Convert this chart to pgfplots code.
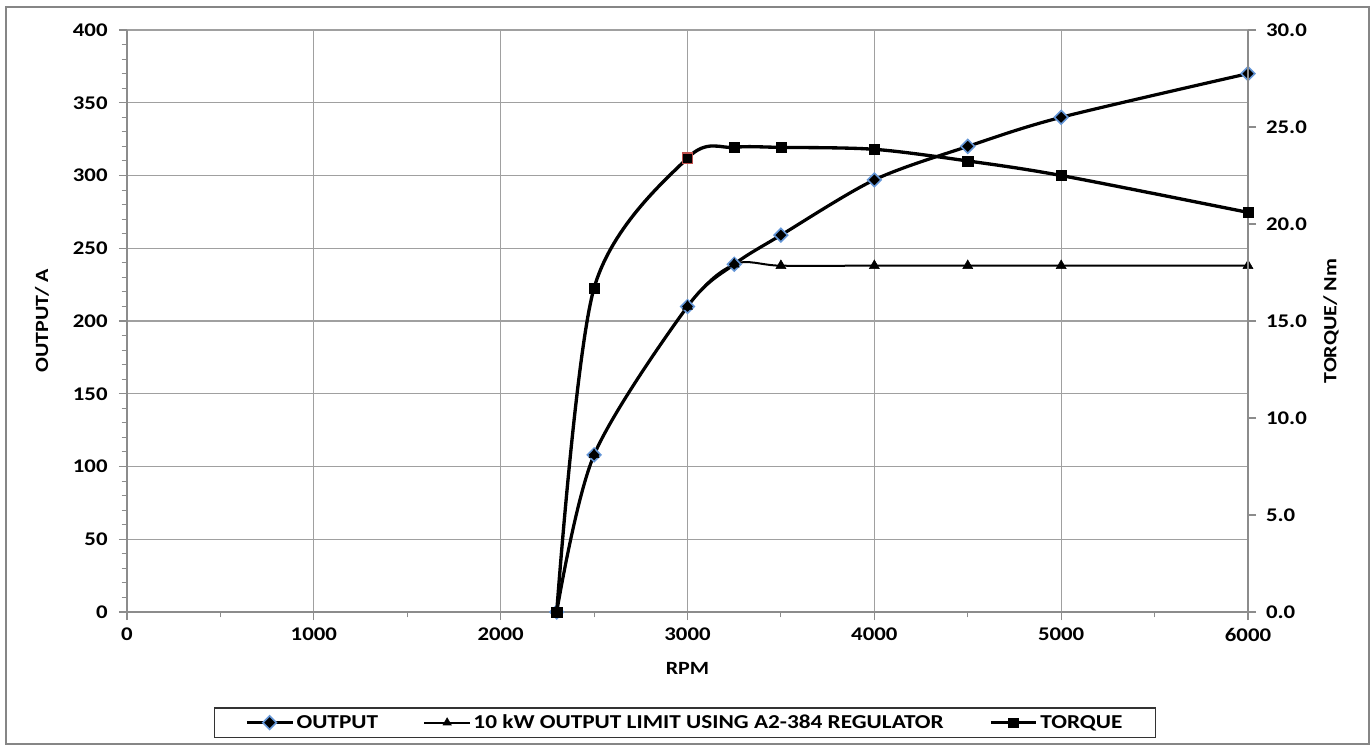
\documentclass[border=0pt]{standalone}
\usepackage{fontspec}
\setmainfont{Carlito}[FakeStretch=1.18]
\usepackage{pgfplots}
\usepackage{pgfplotstable}
\pgfplotsset{compat=1.18}

\definecolor{gridc}{RGB}{160,160,160}
\definecolor{axc}{RGB}{140,140,140}
\definecolor{framec}{RGB}{134,134,134}
\definecolor{diam}{RGB}{100,150,215}
\definecolor{redsq}{RGB}{192,80,77}

% rpm, output current, 10 kW limit, torque
\pgfplotstableread{
rpm  out  lim  tq
2300 0    0    0
2500 108  108  16.7
3000 210  210  23.4
3250 239  239  23.95
3500 259  238  23.95
4000 297  238  23.85
4500 320  238  23.25
5000 340  238  22.5
6000 370  238  20.6
}\data

\pgfplotsset{
  base/.style={
    at={(0,0)}, anchor=south west, scale only axis,
    width=840.75pt, height=436.5pt, xmin=0, xmax=6000,
    tick label style={font=\bfseries\fontsize{14.5}{16}\selectfont},
    /pgf/number format/assume math mode=true,
    /pgf/number format/1000 sep={},
    tick align=outside,
    major tick length=6pt, minor tick length=4pt,
    tick style={axc, line width=0.8pt},
    axis line style={axc, line width=1pt},
    label style={font=\bfseries\fontsize{14}{16}\selectfont},
  },
  outsty/.style={black, line width=2.4pt, smooth, mark=square*, mark size=3.6pt,
    mark options={rotate=45, fill=black, draw=diam, line width=1.2pt}},
  limsty/.style={black, line width=1.5pt, smooth, mark=triangle*, mark size=4.3pt,
    mark options={fill=black, draw=black, line width=0.4pt}},
  tqsty/.style={black, line width=2.5pt, smooth, mark=square*, mark size=3.8pt,
    mark options={fill=black, draw=black, line width=0.4pt}},
}

\begin{document}
\begin{tikzpicture}[x=1pt,y=1pt]
\path[use as bounding box] (-95.25,-101.25) rectangle (933.75,459);
\draw[framec, line width=1.5pt] (-90.75,-99) rectangle (931.5,453.4);

\begin{axis}[base,
  ymin=0, ymax=400,
  axis x line*=bottom, axis y line*=left,
  xtick={0,1000,...,6000}, minor x tick num=1,
  ytick={0,50,...,400}, minor y tick num=4,
  xmajorgrids, ymajorgrids,
  grid style={gridc, line width=0.8pt},
  xticklabel style={yshift=-2.5pt},
  yticklabel style={xshift=-5pt},
  xlabel={RPM}, ylabel={OUTPUT/ A},
  xlabel style={at={(axis description cs:0.5,-0.0962)}, anchor=center},
  ylabel style={at={(axis description cs:-0.0759,0.5)}, anchor=center},
]
\addplot[outsty] table[x=rpm, y=out] {\data};
\addplot[limsty] table[x=rpm, y=lim] {\data};
\end{axis}

\begin{axis}[base,
  ymin=0, ymax=30,
  axis x line=none, axis y line*=right,
  ytick={0,5,...,30},
  yticklabel style={xshift=4pt, /pgf/number format/.cd, fixed, fixed zerofill, precision=1},
  ylabel={TORQUE/ Nm},
  ylabel style={at={(axis description cs:1.074,0.5)}, anchor=center},
  legend style={at={(axis description cs:0.498,-0.19)}, anchor=center,
    draw=black!80, line width=0.8pt, font=\bfseries\fontsize{14.8}{16}\selectfont,
    inner xsep=23pt, inner ysep=3pt,
    /tikz/every even column/.append style={column sep=32pt}},
  legend columns=3, legend cell align=left,
  legend image code/.code={\draw[mark repeat=2, mark phase=2, mark size=3.6pt] plot coordinates {(0pt,0pt) (17pt,0pt) (34pt,0pt)};},
]
\addlegendimage{outsty}
\addlegendimage{limsty}
\addplot[tqsty] table[x=rpm, y=tq] {\data};
\addplot[only marks, forget plot, mark=square*, mark size=3.8pt,
  mark options={fill=black, draw=redsq, line width=0.8pt}] coordinates {(3000,23.4)};
\legend{OUTPUT, 10 kW OUTPUT LIMIT USING A2-384 REGULATOR, TORQUE}
\end{axis}
\end{tikzpicture}
\end{document}
